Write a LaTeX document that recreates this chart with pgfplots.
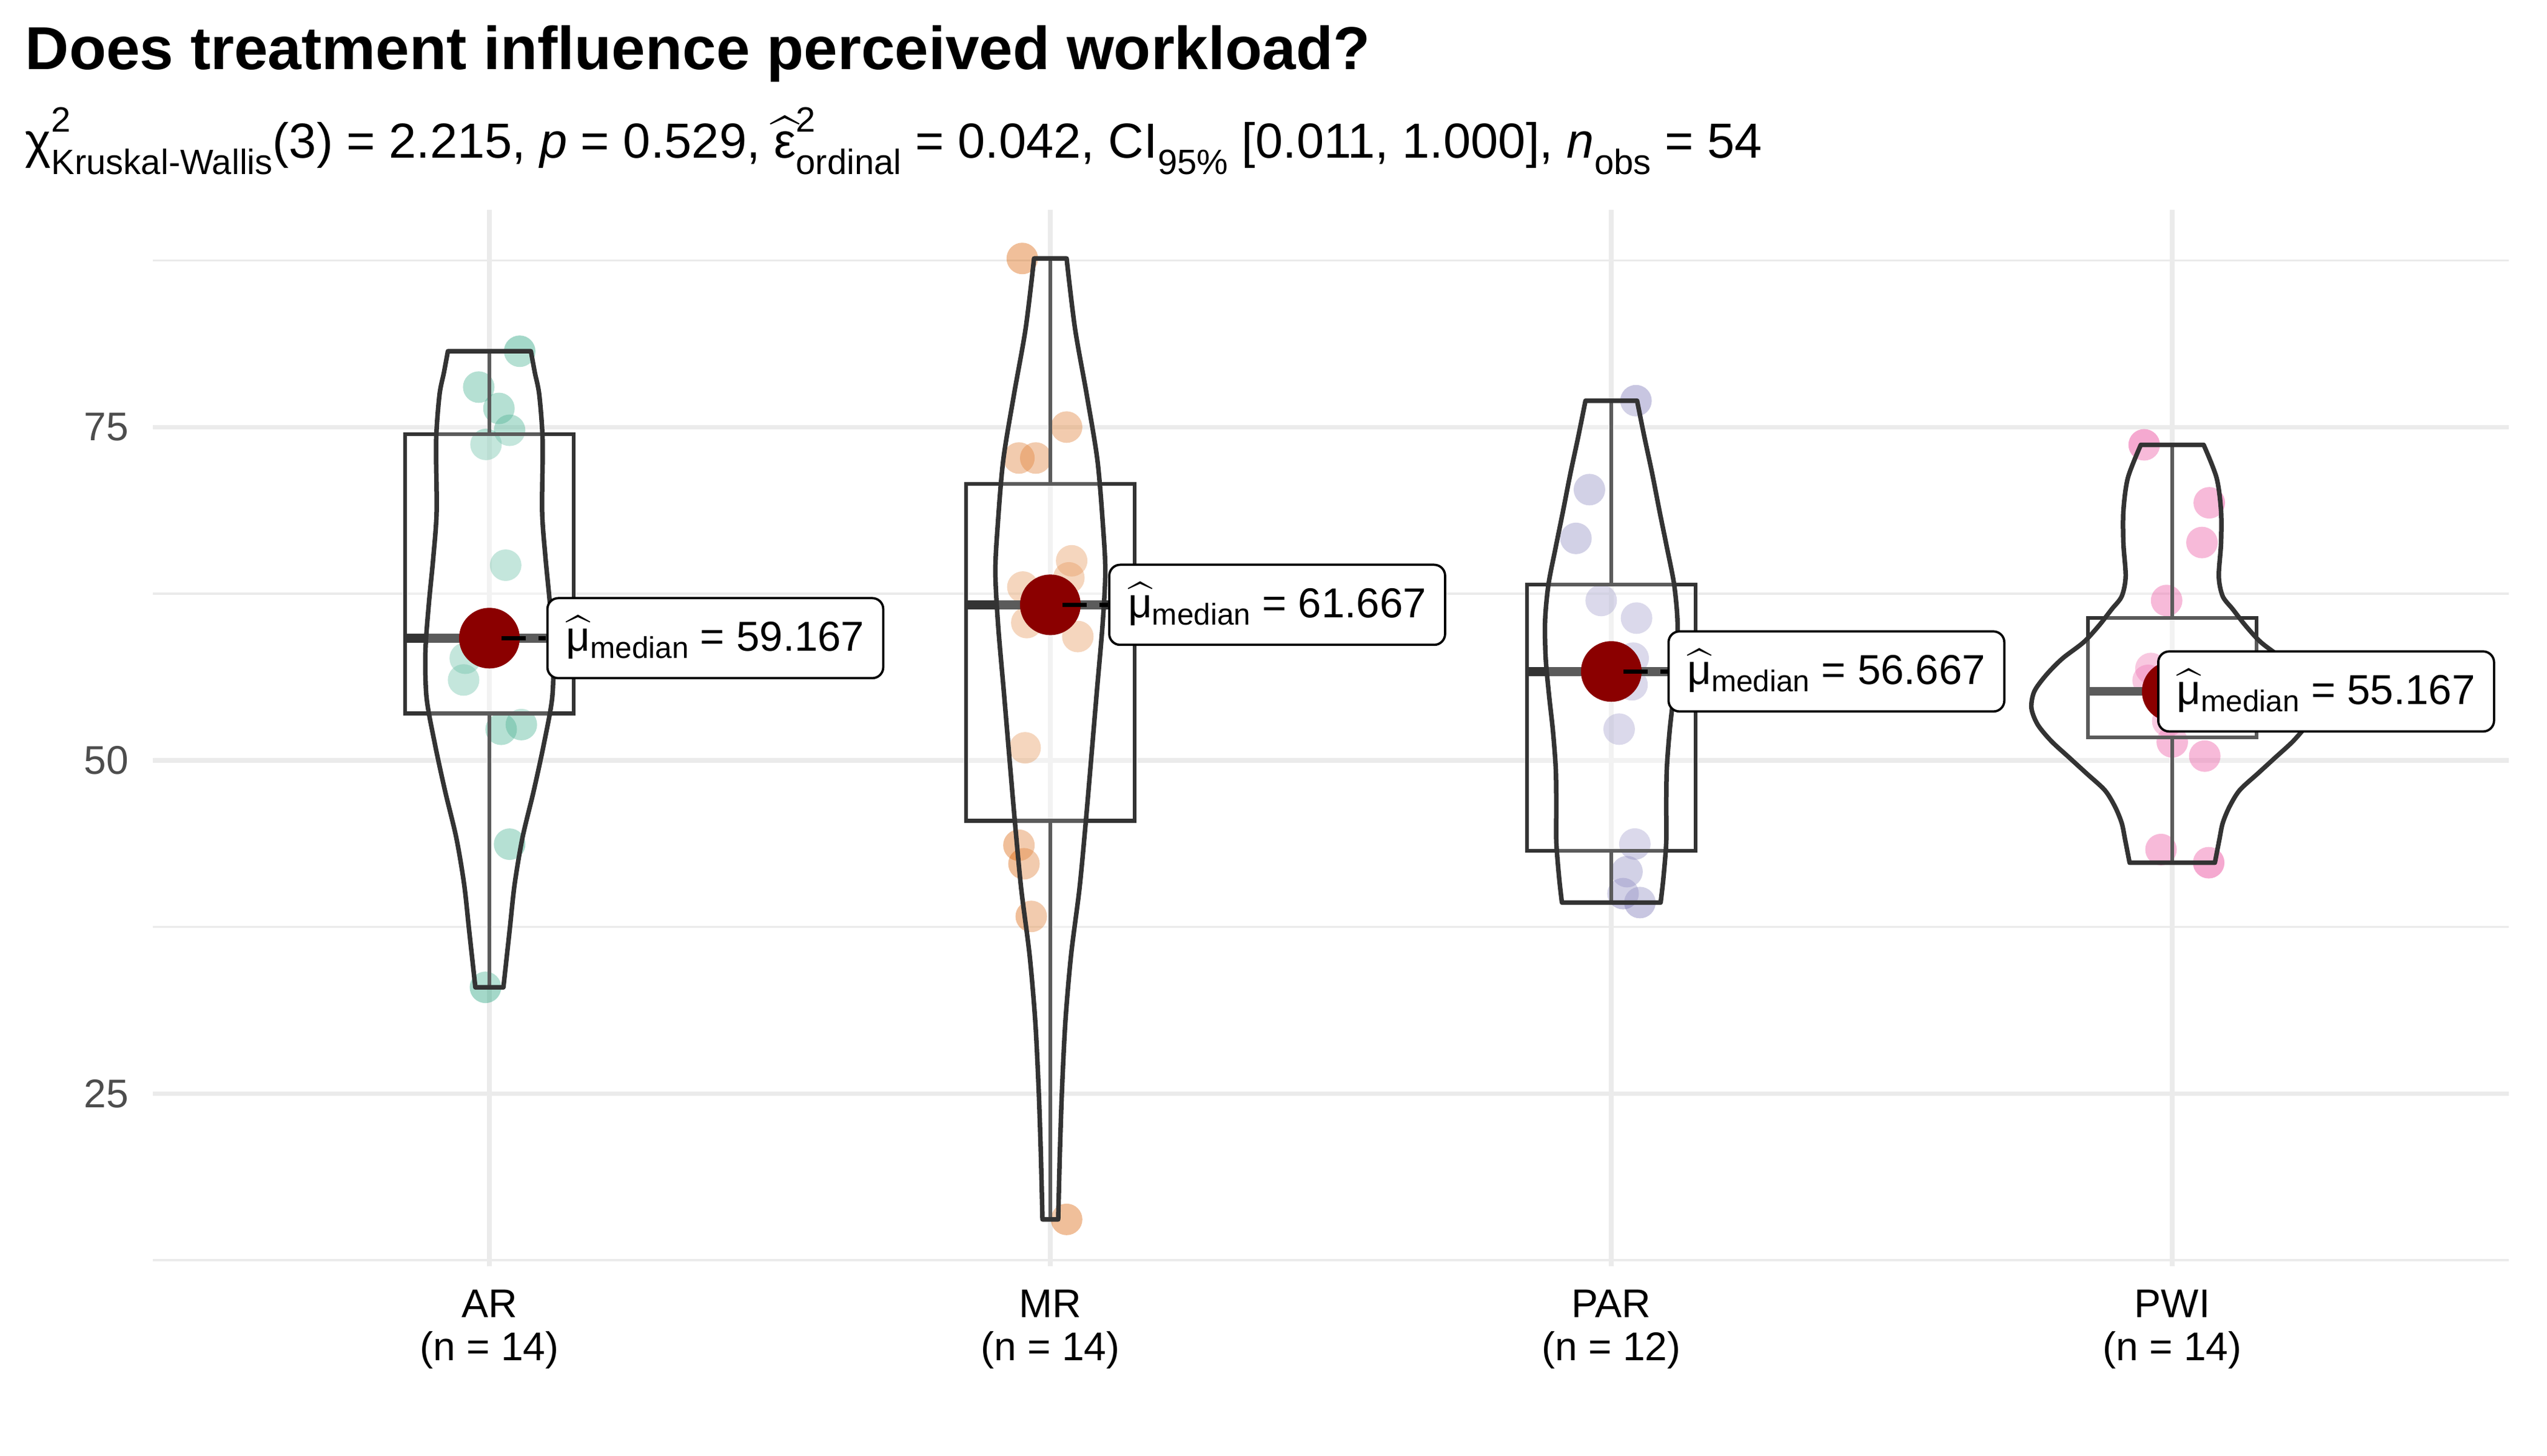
\documentclass[border=0pt]{standalone}
\usepackage{fontspec}
\setmainfont{Liberation Sans}
\usepackage{amsmath}
\usepackage{pgfplots}
\usepackage{pgfplotstable}
\pgfplotsset{compat=1.18}

\definecolor{cAR}{HTML}{1B9E77}
\definecolor{cMR}{HTML}{D95F02}
\definecolor{cPAR}{HTML}{7570B3}
\definecolor{cPWI}{HTML}{E7298A}
\definecolor{dark}{HTML}{333333}
\definecolor{gridc}{HTML}{EBEBEB}
\definecolor{tickc}{HTML}{4D4D4D}
\definecolor{medred}{HTML}{8B0000}

\newcommand{\supsub}[2]{\rlap{\raisebox{8.6pt}{\fontsize{11.6}{12}\selectfont #1}}\raisebox{-5.3pt}{\fontsize{11.6}{12}\selectfont #2}}
\newcommand{\sbs}[1]{\raisebox{-5.3pt}{\fontsize{11.6}{12}\selectfont #1}}
\newcommand{\lbl}[1]{$\widehat{\text{μ}}$\raisebox{-2.4pt}{\fontsize{9.9}{11}\selectfont median} = #1}

% ---------------- jittered observations ----------------
\pgfplotstableread{
x y
1.054 80.69
0.981 78.0
1.017 76.4
1.036 74.76
0.994 73.7
1.029 64.64
0.990 58.667
1.010 59.667
0.957 57.66
0.954 56.03
1.021 52.33
1.057 52.68
1.036 43.71
0.993 32.97
}\ptsAR
\pgfplotstableread{
x y
1.950 87.65
2.029 75.0
1.944 72.68
1.974 72.68
2.038 64.97
2.033 63.69
1.951 63.0
1.958 60.333
2.049 59.29
1.955 50.94
1.944 43.63
1.953 42.24
1.966 38.29
2.029 15.56
}\ptsMR
\pgfplotstableread{
x y
3.044 76.98
2.961 70.31
2.937 66.65
2.982 61.99
3.045 60.67
3.039 57.667
3.037 55.667
3.014 52.34
3.042 43.72
3.028 41.65
3.021 40.0
3.051 39.33
}\ptsPAR
\pgfplotstableread{
x y
3.950 73.67
4.066 69.32
4.053 66.34
3.990 61.99
3.962 56.89
3.957 56.0
4.040 55.5
4.020 54.833
4.030 53.6
3.992 52.94
4.000 51.38
4.058 50.32
3.980 43.31
4.065 42.32
}\ptsPWI

% ---------------- box statistics: pos q1 median q3 whisker-low whisker-high ----------------
% AR : 1 53.52 59.167 74.47 32.97 80.69
% MR : 2 45.46 61.667 70.75 15.56 87.65
% PAR: 3 43.20 56.667 63.20 39.33 76.98
% PWI: 4 51.72 55.167 60.69 42.32 73.67

% ---------------- violin outlines ----------------
\pgfplotstableread{
x y
1.025 32.97
1.036 37.2
1.045 40.7
1.059 44.2
1.079 47.7
1.097 51.2
1.112 54.7
1.114 58.2
1.108 61.7
1.100 65.2
1.094 68.7
1.095 73.9
1.089 77.4
1.081 79.1
1.074 80.69
nan nan
1.074 80.69
0.926 80.69
nan nan
0.926 80.69
0.919 79.1
0.911 77.4
0.905 73.9
0.906 68.7
0.900 65.2
0.892 61.7
0.886 58.2
0.888 54.7
0.903 51.2
0.921 47.7
0.941 44.2
0.955 40.7
0.964 37.2
0.975 32.97
nan nan
0.975 32.97
1.025 32.97
}\vAR
\pgfplotstableread{
x y
2.014 15.56
2.017 20.6
2.021 25.5
2.027 30.5
2.037 35.4
2.052 40.4
2.063 45.3
2.073 50.2
2.083 55.2
2.093 60.1
2.098 64.1
2.094 67.5
2.084 72.5
2.065 77.4
2.044 82.4
2.029 87.65
nan nan
2.029 87.65
1.971 87.65
nan nan
1.971 87.65
1.956 82.4
1.935 77.4
1.916 72.5
1.906 67.5
1.902 64.1
1.907 60.1
1.917 55.2
1.927 50.2
1.937 45.3
1.948 40.4
1.963 35.4
1.973 30.5
1.979 25.5
1.983 20.6
1.986 15.56
nan nan
1.986 15.56
2.014 15.56
}\vMR
\pgfplotstableread{
x y
3.088 39.33
3.093 41.2
3.098 43.9
3.098 46.7
3.099 49.4
3.104 52.2
3.111 54.9
3.117 57.7
3.118 60.5
3.112 63.2
3.099 66.0
3.086 68.7
3.073 71.5
3.059 74.26
3.046 76.98
nan nan
3.046 76.98
2.954 76.98
nan nan
2.954 76.98
2.941 74.26
2.927 71.5
2.914 68.7
2.901 66.0
2.888 63.2
2.882 60.5
2.883 57.7
2.889 54.9
2.896 52.2
2.901 49.4
2.902 46.7
2.902 43.9
2.907 41.2
2.912 39.33
nan nan
2.912 39.33
3.088 39.33
}\vPAR
\pgfplotstableread{
x y
4.076 42.32
4.084 44.05
4.090 45.29
4.102 46.52
4.120 47.75
4.152 48.99
4.184 50.22
4.216 51.46
4.240 52.69
4.251 53.92
4.246 55.16
4.225 56.39
4.196 57.63
4.158 58.86
4.131 60.09
4.108 61.33
4.090 62.31
4.083 63.8
4.087 66.26
4.087 68.73
4.079 71.2
4.056 73.67
nan nan
4.056 73.67
3.944 73.67
nan nan
3.944 73.67
3.921 71.2
3.913 68.73
3.913 66.26
3.917 63.8
3.910 62.31
3.892 61.33
3.869 60.09
3.842 58.86
3.804 57.63
3.775 56.39
3.754 55.16
3.749 53.92
3.760 52.69
3.784 51.46
3.816 50.22
3.848 48.99
3.880 47.75
3.898 46.52
3.910 45.29
3.916 44.05
3.924 42.32
nan nan
3.924 42.32
4.076 42.32
}\vPWI

\pgfplotsset{
  pts/.style={only marks, mark=*, mark size=5.2pt, mark options={draw=#1, draw opacity=0, fill=#1, fill opacity=0.4}},
  boxl/.style={draw=dark, line width=1.25pt, fill=white, fill opacity=0.2, mark=none, line join=miter},
  whisk/.style={draw=dark, line width=1.05pt, mark=none, line cap=butt},
  medl/.style={draw=dark, line width=2.9pt, mark=none, line cap=butt},
  vio/.style={draw=dark, line width=1.5pt, smooth, tension=0.5, unbounded coords=jump, line cap=round, line join=round, mark=none},
  vfill/.style={draw=none, fill=white, fill opacity=0.2, unbounded coords=discard, mark=none},
  seg/.style={black, line width=1.45pt, dash pattern=on 8pt off 4.2pt, mark=none},
}
\tikzset{
  lblbox/.style={draw=black, line width=0.75pt, fill=white, rounded corners=3.6pt, anchor=west,
    inner xsep=6.2pt, inner ysep=0pt, text height=17.4pt, text depth=9pt,
    font=\fontsize{13.8}{15}\selectfont},
}

\begin{document}
\begin{tikzpicture}
\begin{axis}[
  at={(0,0)}, anchor=south west,
  scale only axis, width=777pt, height=348.4pt,
  xmin=0.4, xmax=4.6, ymin=12.05, ymax=91.3,
  clip=false, clip marker paths=true,
  axis line style={draw=none}, tick style={draw=none},
  xtick={1,2,3,4},
  xticklabels={{AR\\(n = 14)},{MR\\(n = 14)},{PAR\\(n = 12)},{PWI\\(n = 14)}},
  ytick={25,50,75}, yticklabels={25,50,75},
  minor ytick={12.5,37.5,62.5,87.5},
  grid=both,
  major grid style={draw=gridc, line width=1.5pt},
  minor grid style={draw=gridc, line width=0.75pt},
  yticklabel style={font=\fontsize{13.2}{14.2}\selectfont, text=tickc, anchor=east, inner sep=0pt, xshift=-7.8pt},
  xticklabel style={font=\fontsize{13.2}{14.2}\selectfont, text=black, align=center, anchor=north, inner sep=0pt, yshift=-7.6pt},
]
% observations
\addplot[pts=cAR] table {\ptsAR};
\addplot[pts=cMR] table {\ptsMR};
\addplot[pts=cPAR] table {\ptsPAR};
\addplot[pts=cPWI] table {\ptsPWI};
% boxplots: whiskers, boxes, medians
\addplot[whisk] coordinates {(1,74.47) (1,80.69)};
\addplot[whisk] coordinates {(1,53.52) (1,32.97)};
\addplot[whisk] coordinates {(2,70.75) (2,87.65)};
\addplot[whisk] coordinates {(2,45.46) (2,15.56)};
\addplot[whisk] coordinates {(3,63.2) (3,76.98)};
\addplot[whisk] coordinates {(3,43.2) (3,39.33)};
\addplot[whisk] coordinates {(4,60.69) (4,73.67)};
\addplot[whisk] coordinates {(4,51.72) (4,42.32)};
\addplot[boxl] coordinates {(0.85,53.52) (1.15,53.52) (1.15,74.47) (0.85,74.47)} -- cycle;
\addplot[boxl] coordinates {(1.85,45.46) (2.15,45.46) (2.15,70.75) (1.85,70.75)} -- cycle;
\addplot[boxl] coordinates {(2.85,43.2) (3.15,43.2) (3.15,63.2) (2.85,63.2)} -- cycle;
\addplot[boxl] coordinates {(3.85,51.72) (4.15,51.72) (4.15,60.69) (3.85,60.69)} -- cycle;
\addplot[medl] coordinates {(0.85,59.167) (1.15,59.167)};
\addplot[medl] coordinates {(1.85,61.667) (2.15,61.667)};
\addplot[medl] coordinates {(2.85,56.667) (3.15,56.667)};
\addplot[medl] coordinates {(3.85,55.167) (4.15,55.167)};
% violins
\addplot[vfill] table {\vAR} -- cycle;
\addplot[vio] table {\vAR};
\addplot[vfill] table {\vMR} -- cycle;
\addplot[vio] table {\vMR};
\addplot[vfill] table {\vPAR} -- cycle;
\addplot[vio] table {\vPAR};
\addplot[vfill] table {\vPWI} -- cycle;
\addplot[vio] table {\vPWI};
% medians
\addplot[only marks, mark=*, mark size=10pt, mark options={draw=medred, draw opacity=0, fill=medred}] coordinates {(1,59.167) (2,61.667) (3,56.667) (4,55.167)};
\addplot[seg] coordinates {(1.022,59.167) (1.101,59.167)};
\addplot[seg] coordinates {(2.022,61.667) (2.103,61.667)};
\addplot[seg] coordinates {(3.022,56.667) (3.100,56.667)};
\node[lblbox] at (axis cs:1.1014,59.167) {\lbl{59.167}};
\node[lblbox] at (axis cs:2.1030,61.667) {\lbl{61.667}};
\node[lblbox] at (axis cs:3.1000,56.667) {\lbl{56.667}};
\node[lblbox] at (axis cs:3.9730,55.167) {\lbl{55.167}};
\end{axis}
\node[anchor=base west, inner sep=0pt, font=\fontsize{20}{24}\selectfont\bfseries] at (-42.2pt,394.7pt) {Does treatment influence perceived workload?};
\node[anchor=base west, inner sep=0pt, font=\fontsize{16.25}{19}\selectfont] at (-42.2pt,365.4pt)
 {χ\supsub{2}{Kruskal-Wallis}(3) = 2.215, \textit{p} = 0.529, $\widehat{\text{ε}}$\supsub{2}{ordinal} = 0.042, CI\sbs{95\%} [0.011, 1.000], \textit{n}\sbs{obs} = 54};
\pgfresetboundingbox
\path[use as bounding box] (-50.4pt,-62.4pt) rectangle (789.6pt,417.6pt);
\end{tikzpicture}
\end{document}
